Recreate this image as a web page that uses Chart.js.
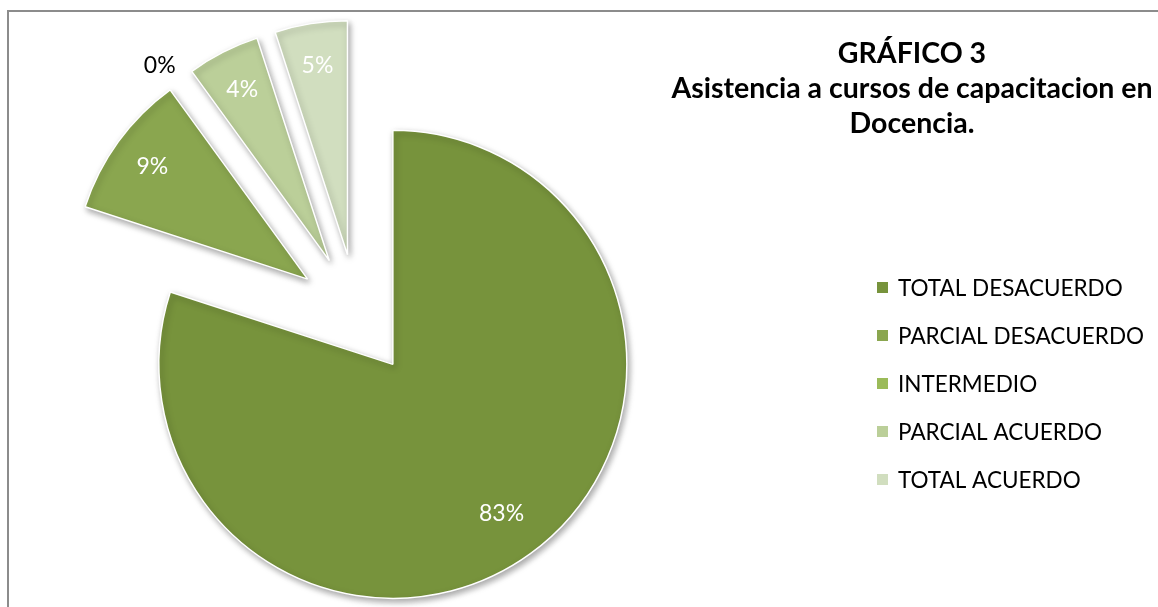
<!DOCTYPE html>
<html>
<head>
<meta charset="utf-8">
<script src="https://cdn.jsdelivr.net/npm/chart.js@4/dist/chart.umd.min.js"></script>
<style>
  html, body { margin: 0; padding: 0; background: #fff; overflow: hidden; }
  #wrap { position: relative; width: 1158px; height: 607px; }
  #frame { position: absolute; left: 7px; top: 10px; width: 1300px; height: 700px; border: 2px solid #8c8c8c; }
  #chart { position: absolute; left: 0; top: 0; }
</style>
</head>
<body>
<div id="wrap">
  <div id="frame"></div>
  <canvas id="chart" width="1158" height="607"></canvas>
</div>
<script>
const categories = ["TOTAL DESACUERDO", "PARCIAL DESACUERDO", "INTERMEDIO", "PARCIAL ACUERDO", "TOTAL ACUERDO"];
// slice sizes as drawn (angles)
const shares = [80, 10, 0, 5, 5];
// data label texts as printed on the chart
const pctLabels = ["83%", "9%", "0%", "4%", "5%"];
const colors = ["#77933c", "#8aa64f", "#9bbb59", "#bbcf99", "#d1debf"];
const titleLines = ["GRÁFICO 3", "Asistencia a cursos de capacitacion en", "Docencia."];

const EXPLODE = 61;

const piePlugin = {
  id: "piePlugin",
  beforeDatasetDraw(chart, args) {
    const ctx = chart.ctx;
    args.meta.data.forEach((arc) => {
      const mid = (arc.startAngle + arc.endAngle) / 2;
      ctx.save();
      ctx.shadowColor = "rgba(0,0,0,0.35)";
      ctx.shadowBlur = 6;
      ctx.shadowOffsetX = 2;
      ctx.shadowOffsetY = 3;
      ctx.translate(Math.cos(mid) * EXPLODE, Math.sin(mid) * EXPLODE);
      arc.draw(ctx);
      ctx.restore();
    });
    return false;
  },
  afterDatasetsDraw(chart) {
    const ctx = chart.ctx;
    const meta = chart.getDatasetMeta(0);
    ctx.save();
    ctx.font = "23px Lato";
    ctx.textAlign = "center";
    ctx.textBaseline = "middle";
    meta.data.forEach((arc, i) => {
      const zero = shares[i] === 0;
      // the empty slice gets its label a bit further round, outside the pie
      const mid = (arc.startAngle + arc.endAngle) / 2 - (zero ? 0.04 : 0);
      const r = EXPLODE + arc.outerRadius * (zero ? 1.1 : i === 0 ? 0.79 : 0.82);
      ctx.fillStyle = zero ? "#000" : "#fff";
      ctx.fillText(pctLabels[i], arc.x + Math.cos(mid) * r, arc.y + Math.sin(mid) * r);
    });
    ctx.restore();
  },
  afterDraw(chart) {
    const ctx = chart.ctx;
    ctx.save();
    // legend
    ctx.font = "22.5px Lato";
    ctx.textBaseline = "alphabetic";
    ctx.textAlign = "left";
    categories.forEach((name, i) => {
      const base = 296 + i * 48;
      ctx.fillStyle = colors[i];
      ctx.fillRect(877, base - 14, 11, 11);
      ctx.fillStyle = "#000";
      ctx.fillText(name, 898, base);
    });
    // title
    ctx.font = "bold 28.5px Lato";
    ctx.textAlign = "center";
    titleLines.forEach((t, i) => ctx.fillText(t, 912, 63 + i * 35));
    ctx.restore();
  },
};

new Chart(document.getElementById("chart"), {
  type: "pie",
  data: {
    labels: categories,
    datasets: [
      {
        data: shares,
        backgroundColor: colors,
        borderColor: "#ffffff",
        borderWidth: 1.5,
      },
    ],
  },
  options: {
    responsive: false,
    animation: false,
    radius: 234,
    layout: { padding: { left: 0, right: 444, top: 30, bottom: 7 } },
    plugins: {
      legend: { display: false },
      title: { display: false },
      tooltip: { enabled: false },
    },
  },
  plugins: [piePlugin],
});
</script>
</body>
</html>
